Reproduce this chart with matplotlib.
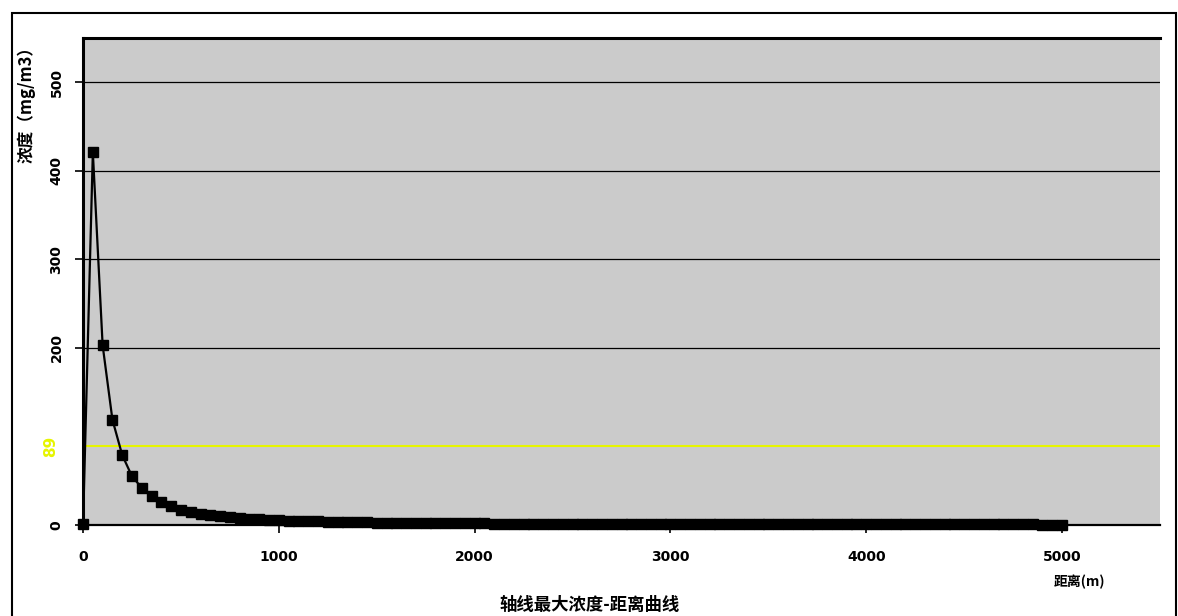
import matplotlib
matplotlib.use("Agg")
import matplotlib.pyplot as plt
from matplotlib.patches import Rectangle

plt.rcParams['font.family'] = ['Noto Sans CJK SC', 'DejaVu Sans']

distance_m = [
    0, 50, 100, 150, 200, 250, 300, 350, 400, 450,
    500, 550, 600, 650, 700, 750, 800, 850, 900, 950,
    1000, 1050, 1100, 1150, 1200, 1250, 1300, 1350, 1400, 1450,
    1500, 1550, 1600, 1650, 1700, 1750, 1800, 1850, 1900, 1950,
    2000, 2050, 2100, 2150, 2200, 2250, 2300, 2350, 2400, 2450,
    2500, 2550, 2600, 2650, 2700, 2750, 2800, 2850, 2900, 2950,
    3000, 3050, 3100, 3150, 3200, 3250, 3300, 3350, 3400, 3450,
    3500, 3550, 3600, 3650, 3700, 3750, 3800, 3850, 3900, 3950,
    4000, 4050, 4100, 4150, 4200, 4250, 4300, 4350, 4400, 4450,
    4500, 4550, 4600, 4650, 4700, 4750, 4800, 4850, 4900, 4950,
    5000,
]
concentration = [
    1.0, 421, 203, 119, 79, 55, 42, 33, 26, 21,
    17.5, 15, 13, 11.3, 10, 8.9, 8.0, 7.2, 6.5, 5.9,
    5.4, 5.0, 4.6, 4.3, 4.0, 3.7, 3.5, 3.3, 3.1, 2.9,
    2.8, 2.6, 2.5, 2.4, 2.3, 2.2, 2.1, 2.0, 1.9, 1.85,
    1.8, 1.75, 1.7, 1.65, 1.6, 1.55, 1.5, 1.46, 1.42, 1.38,
    1.34, 1.3, 1.27, 1.24, 1.21, 1.18, 1.15, 1.12, 1.1, 1.07,
    1.05, 1.03, 1.01, 0.99, 0.97, 0.95, 0.93, 0.91, 0.9, 0.88,
    0.87, 0.85, 0.84, 0.82, 0.81, 0.8, 0.78, 0.77, 0.76, 0.75,
    0.74, 0.73, 0.72, 0.71, 0.7, 0.69, 0.68, 0.67, 0.66, 0.65,
    0.64, 0.63, 0.62, 0.62, 0.61, 0.6, 0.59, 0.59, 0.58, 0.57,
    0.57,
]
x_ticks = [0, 1000, 2000, 3000, 4000, 5000]
y_ticks = [0, 200, 300, 400, 500]
grid_levels = [200, 300, 400, 500]
threshold = 89
threshold_label = "89"

title = "轴线最大浓度-距离曲线"
x_label = "距离(m)"
y_label = "浓度（mg/m3）"

fig = plt.figure(figsize=(11.78, 6.16), dpi=100)
fig.patch.set_facecolor('white')

# outer frame
fig.patches.append(Rectangle((0.0102, -0.05), 0.988, 0.979 + 0.05,
                             transform=fig.transFigure, fill=False,
                             edgecolor='black', linewidth=1.5))

ax = fig.add_axes([0.0705, 0.1477, 0.9142, 0.7906])
ax.set_facecolor('#cbcbcb')

ax.set_xlim(0, 5500)
ax.set_ylim(0, 550)

for yv in grid_levels:
    ax.axhline(yv, color='black', linewidth=0.9, zorder=1)

ax.axhline(threshold, color='#e6f500', linewidth=1.5, zorder=2)

ax.plot(distance_m, concentration, color='black', linewidth=1.6,
        marker='s', markersize=7, markerfacecolor='black',
        markeredgecolor='black', zorder=3, clip_on=False)

ax.set_xticks(x_ticks)
ax.set_xticklabels([str(v) for v in x_ticks], fontsize=10, fontweight='bold',
                   family='DejaVu Sans')
ax.set_yticks(y_ticks)
ax.set_yticklabels([str(v) for v in y_ticks], fontsize=10, fontweight='bold',
                   rotation=90, va='center', family='DejaVu Sans')
ax.tick_params(axis='both', direction='out', length=6, width=1.2, colors='black')
ax.tick_params(axis='x', pad=12)
ax.tick_params(axis='y', pad=8)

for side in ['top', 'left']:
    ax.spines[side].set_linewidth(2.2)
ax.spines['bottom'].set_linewidth(1.6)
ax.spines['right'].set_visible(False)

# threshold label on the y axis
ax.text(-0.030, threshold, threshold_label, transform=ax.get_yaxis_transform(),
        rotation=90, ha='center', va='center', color='#e6f500', fontsize=11,
        fontweight='bold', family='DejaVu Sans')

fig.text(26 / 1178, 1 - 38 / 616, y_label, rotation=90, ha='center', va='top',
         fontsize=12, fontweight='bold')
fig.text(1080 / 1178, 1 - 582 / 616, x_label, ha='center', va='center',
         fontsize=10, fontweight='bold')
fig.text(590 / 1178, 1 - 605 / 616, title, ha='center', va='center',
         fontsize=12.5, fontweight='bold')

fig.savefig('out.png', dpi=100)
